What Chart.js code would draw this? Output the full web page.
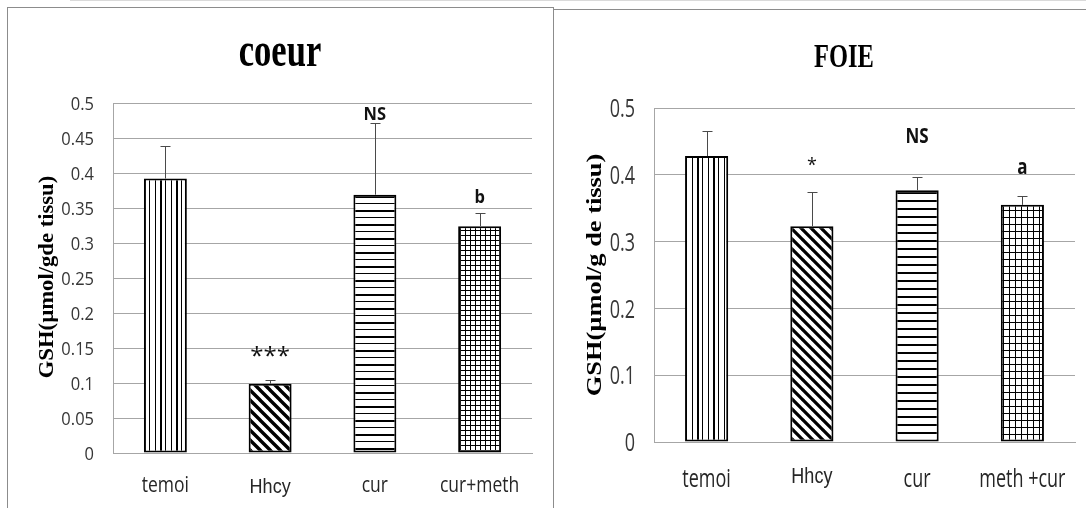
<!DOCTYPE html>
<html>
<head>
<meta charset="utf-8">
<script src="https://cdn.jsdelivr.net/npm/chart.js@4/dist/chart.umd.min.js"></script>
<style>
  html, body { margin: 0; padding: 0; background: #fff; width: 1086px; height: 508px; overflow: hidden; position: relative; }
  .frame { position: absolute; box-sizing: border-box; }
  #frameL { left: 7px; top: 7px; width: 547px; height: 530px; border: 1px solid #8c8c8c; border-bottom: none; }
  #frameR { left: 553px; top: 9px; width: 540px; height: 530px; border-top: 1px solid #8c8c8c; }
  #topline { position: absolute; left: 70px; top: 0; width: 1016px; height: 1px; background: #dadada; }
  canvas { position: absolute; top: 0; }
  #cL { left: 0; }
  #cR { left: 553px; }
</style>
</head>
<body>
<div id="topline"></div>
<div class="frame" id="frameL"></div>
<div class="frame" id="frameR"></div>
<canvas id="cL" width="553" height="508"></canvas>
<canvas id="cR" width="533" height="508"></canvas>
<script>
// ---- coeur (heart) ----
const groupsCoeur = ['temoi', 'Hhcy', 'cur', 'cur+meth'];
const gshCoeur = [0.392, 0.099, 0.369, 0.324];
const semCoeur = [0.046, 0.005, 0.102, 0.019];
const sigCoeur = ['', '***', 'NS', 'b'];
const sigLevelCoeur = [null, 0.145, 0.486, 0.367];
const yTicksCoeur = ['0', '0.05', '0.1', '0.15', '0.2', '0.25', '0.3', '0.35', '0.4', '0.45', '0.5'];

// ---- FOIE (liver) ----
const groupsFoie = ['temoi', 'Hhcy', 'cur', 'meth +cur'];
const gshFoie = [0.428, 0.323, 0.377, 0.355];
const semFoie = [0.037, 0.051, 0.020, 0.014];
const sigFoie = ['', '*', 'NS', 'a'];
const sigLevelFoie = [null, 0.42, 0.46, 0.41];
const yTicksFoie = ['0', '0.1', '0.2', '0.3', '0.4', '0.5'];

const HUMAN = "'Open Sans', 'Noto Sans', sans-serif";
const SERIF = "'Liberation Serif', 'Times New Roman', serif";
const SANS = "'Liberation Sans', Arial, sans-serif";

// Black-and-white hatch fills for the bars
function hatch(kind, a, b) {
  const c = document.createElement('canvas');
  const g = c.getContext('2d');
  if (kind === 'vertical') {
    c.width = 16; c.height = 4;
    g.fillStyle = '#fff'; g.fillRect(0, 0, 16, 4);
    g.fillStyle = '#000';
    g.fillRect(0, 0, 2, 4);
    g.fillRect(5, 0, 1, 4);
    g.fillRect(11, 0, 1, 4);
  } else if (kind === 'diagonal') {
    c.width = a; c.height = a;
    g.fillStyle = '#fff'; g.fillRect(0, 0, a, a);
    g.strokeStyle = '#000'; g.lineWidth = b;
    g.beginPath();
    [-a, 0, a].forEach(k => { g.moveTo(k - 1, -1); g.lineTo(k + a + 1, a + 1); });
    g.stroke();
  } else if (kind === 'horizontal') {
    c.width = 4; c.height = a * 4;
    g.fillStyle = '#fff'; g.fillRect(0, 0, 4, a * 4);
    g.fillStyle = '#000';
    for (let i = 0; i < 4; i++) g.fillRect(0, i * a, 4, (i % 2 === 0) ? 2 : b);
  } else {
    c.width = a; c.height = b;
    g.fillStyle = '#fff'; g.fillRect(0, 0, a, b);
    g.fillStyle = '#000';
    g.fillRect(0, 0, a, 1);
    g.fillRect(0, 0, 1, b);
  }
  return g.createPattern(c, 'repeat');
}

// Text helper: optional rotation and anisotropic scaling.
// Without an explicit baseline the glyph box is centred vertically on (x, y).
function drawText(ctx, text, x, y, o) {
  ctx.save();
  ctx.translate(x, y);
  if (o.rot) ctx.rotate(o.rot);
  ctx.scale(o.sx || 1, o.sy || 1);
  ctx.font = o.font;
  ctx.fillStyle = o.color || '#000';
  ctx.textAlign = o.align || 'center';
  if (o.baseline) {
    ctx.textBaseline = o.baseline;
    ctx.fillText(text, 0, 0);
  } else {
    ctx.textBaseline = 'alphabetic';
    const m = ctx.measureText(text);
    const dy = (m.actualBoundingBoxAscent - m.actualBoundingBoxDescent) / 2;
    ctx.fillText(text, 0, dy);
  }
  ctx.restore();
}

const errorBars = {
  id: 'errorBars',
  afterDatasetsDraw(chart, args, opts) {
    const { ctx } = chart;
    const y = chart.scales.y;
    const ds = chart.data.datasets[0];
    const meta = chart.getDatasetMeta(0);
    ctx.save();
    ctx.strokeStyle = opts.color;
    ctx.lineWidth = 1;
    meta.data.forEach((bar, i) => {
      const x = Math.round(bar.x) + 0.5;
      const base = y.getPixelForValue(ds.data[i]);
      const top = Math.round(y.getPixelForValue(ds.data[i] + ds.errors[i])) + 0.5;
      ctx.beginPath();
      ctx.moveTo(x, base);
      ctx.lineTo(x, top);
      ctx.moveTo(x - opts.cap, top);
      ctx.lineTo(x + opts.cap, top);
      ctx.stroke();
    });
    ctx.restore();
  }
};

// Titles, axis labels and significance marks
const decorations = {
  id: 'decorations',
  afterDraw(chart, args, o) {
    const { ctx } = chart;
    const x = chart.scales.x;
    const y = chart.scales.y;
    const meta = chart.getDatasetMeta(0);

    drawText(ctx, o.title, o.titleX, o.titleY, { font: o.titleFont, sx: o.titleSx });

    drawText(ctx, o.axisTitle, o.axisX, o.axisY, {
      font: o.axisFont, rot: -Math.PI / 2, sx: o.axisStretch, baseline: 'alphabetic'
    });

    // value-axis tick labels
    y.ticks.forEach((t, i) => {
      drawText(ctx, o.yLabels[i], o.yLabelRight, y.getPixelForValue(t.value), {
        font: o.yFont, sy: o.ySy, align: 'right', color: '#363636'
      });
    });

    // category labels
    chart.data.labels.forEach((t, i) => {
      const hh = i === 1;
      drawText(ctx, t, x.getPixelForValue(i), hh ? o.hhcyBase : o.xBase, {
        font: hh ? o.hhcyFont : o.xFont, sy: hh ? o.hhcySy : o.xSy,
        baseline: 'alphabetic', color: '#262626'
      });
    });

    // significance marks above the bars
    o.marks.forEach((t, i) => {
      if (!t) return;
      const star = t.indexOf('*') >= 0;
      drawText(ctx, t, meta.data[i].x, y.getPixelForValue(o.markLevels[i]), {
        font: star ? o.starFont : o.markFont, sy: star ? 1 : o.markSy, color: '#111'
      });
    });
  }
};

function makeChart(canvas, cfg) {
  return new Chart(canvas, {
    type: 'bar',
    data: {
      labels: cfg.labels,
      datasets: [{
        data: cfg.values,
        errors: cfg.errors,
        backgroundColor: cfg.fills,
        borderColor: '#000',
        borderWidth: 2,
        borderSkipped: false,
        categoryPercentage: 1,
        barPercentage: 0.41
      }]
    },
    options: {
      responsive: false,
      animation: false,
      devicePixelRatio: 1,
      layout: { padding: cfg.padding },
      plugins: {
        legend: { display: false },
        tooltip: { enabled: false },
        errorBars: { color: '#4a4a4a', cap: 5 },
        decorations: cfg.deco
      },
      scales: {
        x: {
          grid: { display: false, drawTicks: false },
          border: { display: true, color: '#a6a6a6', width: 1 },
          ticks: { display: false },
          afterFit: (s) => { s.height = cfg.xHeight; }
        },
        y: {
          min: 0,
          max: 0.5,
          grid: { color: '#a6a6a6', lineWidth: 1, drawTicks: false },
          border: { display: true, color: '#a6a6a6', width: 1 },
          afterBuildTicks: (s) => { s.ticks = cfg.yTicks.map(v => ({ value: parseFloat(v) })); },
          ticks: { display: false },
          afterFit: (s) => { s.width = cfg.yWidth; }
        }
      }
    },
    plugins: [errorBars, decorations]
  });
}

makeChart(document.getElementById('cL'), {
  labels: groupsCoeur,
  values: gshCoeur,
  errors: semCoeur,
  yTicks: yTicksCoeur,
  fills: [hatch('vertical'), hatch('diagonal', 10, 3.4), hatch('horizontal', 7, 1), hatch('grid', 5, 5)],
  padding: { left: 0, right: 21, top: 103, bottom: 0 },
  yWidth: 113, xHeight: 55,
  deco: {
    title: 'coeur', titleX: 280, titleY: 54, titleFont: 'bold 48px ' + SERIF, titleSx: 0.72,
    axisTitle: 'GSH(µmol/gde tissu)', axisX: 53, axisY: 277, axisFont: 'bold 22px ' + SERIF, axisStretch: 1.03,
    yLabels: yTicksCoeur, yLabelRight: 94, yFont: '16.5px ' + HUMAN, ySy: 1.12,
    xBase: 492, xFont: '17.5px ' + HUMAN, xSy: 1.2,
    hhcyBase: 493, hhcyFont: '18px ' + SANS, hhcySy: 1.15,
    marks: sigCoeur, markLevels: sigLevelCoeur,
    markFont: 'bold 16.5px ' + HUMAN, markSy: 1.12, starFont: '24px ' + HUMAN
  }
});

makeChart(document.getElementById('cR'), {
  labels: groupsFoie,
  values: gshFoie,
  errors: semFoie,
  yTicks: yTicksFoie,
  fills: [hatch('vertical'), hatch('diagonal', 10, 3.2), hatch('horizontal', 8, 2), hatch('grid', 6, 7)],
  padding: { left: 0, right: 11, top: 108, bottom: 0 },
  yWidth: 101, xHeight: 66,
  deco: {
    title: 'FOIE', titleX: 291, titleY: 56, titleFont: 'bold 34px ' + SERIF, titleSx: 0.72,
    axisTitle: 'GSH(µmol/g de tissu)', axisX: 48, axisY: 275, axisFont: 'bold 22px ' + SERIF, axisStretch: 1.2,
    yLabels: yTicksFoie, yLabelRight: 82, yFont: '18px ' + HUMAN, ySy: 1.4,
    xBase: 487, xFont: '18px ' + HUMAN, xSy: 1.45,
    hhcyBase: 483, hhcyFont: '18px ' + SANS, hhcySy: 1.2,
    marks: sigFoie, markLevels: sigLevelFoie,
    markFont: 'bold 17px ' + HUMAN, markSy: 1.25, starFont: '18px ' + HUMAN
  }
});
</script>
</body>
</html>
